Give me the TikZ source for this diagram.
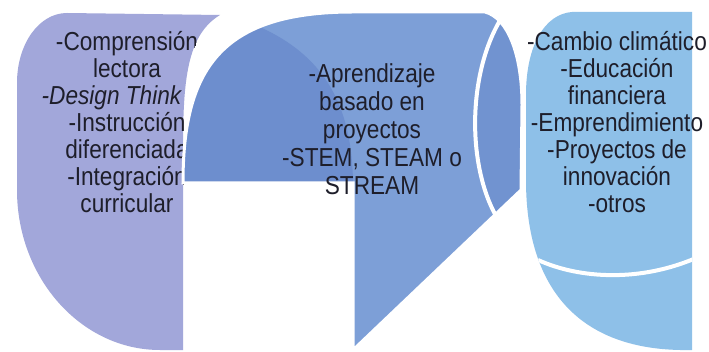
\documentclass[tikz,border=0pt]{standalone}
\usepackage{fontspec}
\setmainfont{Liberation Sans}[FakeStretch=0.87]
\definecolor{lav}{HTML}{A2A7DA}
\definecolor{midblue}{HTML}{7D9FD7}
\definecolor{middark}{HTML}{6D8ECE}
\definecolor{rightdark}{HTML}{7193D0}
\definecolor{lightblue}{HTML}{8EC0E8}
\definecolor{ink}{HTML}{1E1E2A}
\tikzset{
  sone/.style={insert path={(220,15) -- (67,13) .. controls (39,13) and (17,44) .. (17,83) -- (17,190) .. controls (17,278) and (81,350) .. (160,350) -- (183,350) -- (183,150) .. controls (183,80) and (187,35) .. (220,15) -- cycle}},
  stwo/.style={insert path={(353,350) -- (353,183) -- (183,183) .. controls (183,70) and (220,12) .. (353,12) -- (485,12) .. controls (508,18) and (522,55) .. (522,105) -- (521,190) -- cycle}},
  sthree/.style={insert path={(572,12) -- (692,12) -- (692,350) -- (680,350) .. controls (580,348) and (526,290) .. (526,180) -- (526,95) .. controls (526,45) and (545,14) .. (572,12) -- cycle}},
  txt/.style={font=\fontsize{26}{28}\selectfont, text=ink, inner sep=0pt, anchor=base}
}
\begin{document}
\begin{tikzpicture}[x=1pt,y=-1pt]
\useasboundingbox (0,0) rectangle (709,352);
\fill[white] (0,0) rectangle (709,352);
% shape 1
\fill[lav, sone];
\begin{scope}
  \clip[sone];
  \node[txt] (a1) at (127,51) {-Comprensión};
  \node[txt] (a2) at (127,78) {lectora};
  \node[txt] (a3) at (127,105) {\textit{-Design Think}\phantom{\textit{ing}}};
  \node[txt] (a4) at (127,132) {-Instrucción};
  \node[txt] (a5) at (127,159) {diferenciada};
  \node[txt] (a6) at (127,186) {-Integración};
  \node[txt] (a7) at (127,213) {curricular};
\end{scope}
% shape 2
\fill[midblue, stwo];
\begin{scope}
  \clip[stwo];
  \fill[middark] (150,195) -- (150,0) -- (240,0) -- (262,28) .. controls (320,55) and (352,100) .. (353,183) -- (353,195) -- cycle;
  \fill[rightdark] (504,14) .. controls (468,68) and (466,162) .. (496,216) -- (560,216) -- (560,0) -- (504,0) -- cycle;
  \draw[white, line width=4pt] (504,14) .. controls (468,68) and (466,162) .. (496,216);
\end{scope}
\draw[white, line width=3pt, stwo];
\node[txt] (b1) at (372,83) {-Aprendizaje};
\node[txt] (b2) at (372,111) {basado en};
\node[txt] (b3) at (372,139) {proyectos};
\node[txt] (b4) at (372,167) {-STEM, STEAM o};
\node[txt] (b5) at (372,195) {STREAM};
% shape 3
\fill[lightblue, sthree];
\begin{scope}
  \clip[sthree];
  \draw[white, line width=4pt] (538,260) .. controls (580,279) and (640,282) .. (696,258);
\end{scope}
\node[txt] (c1) at (617,51) {-Cambio climático};
\node[txt] (c2) at (617,78) {-Educación};
\node[txt] (c3) at (617,105) {financiera};
\node[txt] (c4) at (617,132) {-Emprendimiento};
\node[txt] (c5) at (617,159) {-Proyectos de};
\node[txt] (c6) at (617,186) {innovación};
\node[txt] (c7) at (617,213) {-otros};
\end{tikzpicture}
\end{document}
